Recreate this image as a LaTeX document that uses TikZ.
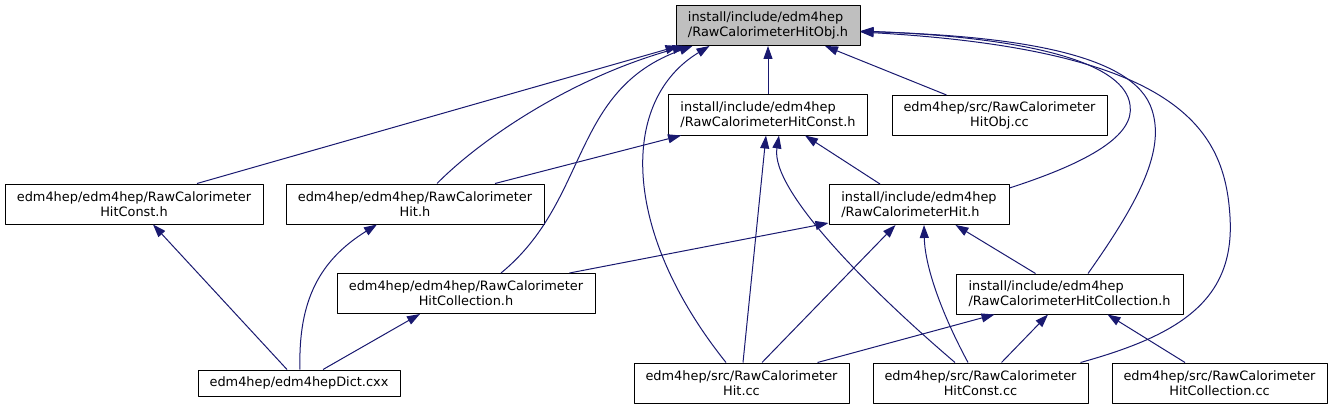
\documentclass[tikz,border=0pt]{standalone}
\usepackage{fontspec}
\setmainfont{DejaVu Sans}
\usetikzlibrary{arrows.meta}
\definecolor{edgeblue}{RGB}{25,25,112}
\definecolor{rootgray}{RGB}{191,191,191}

\begin{document}
\begin{tikzpicture}[x=1pt, y=-1pt, line join=round,
    file/.style={draw=black, fill=white, line width=1pt, inner sep=0pt,
      minimum height=40pt, font=\fontsize{12.9}{15}\selectfont, align=center},
    incl/.style={file, align=left},
    dep/.style={edgeblue, line width=1pt, {Triangle[length=13pt,width=9pt]}-}]
  \useasboundingbox (0,0) rectangle (1332,409);

  % Header files
  \node[incl, fill=rootgray, minimum width=184pt] (root) at (768,25.5) {install/include/edm4hep\\/RawCalorimeterHitObj.h};
  \node[incl, minimum width=199pt] (cnst) at (768,115) {install/include/edm4hep\\/RawCalorimeterHitConst.h};
  \node[incl, minimum width=180pt] (hith) at (919,204.5) {install/include/edm4hep\\/RawCalorimeterHit.h};
  \node[incl, minimum width=227pt] (icoll) at (1069.5,294) {install/include/edm4hep\\/RawCalorimeterHitCollection.h};
  \node[file, minimum width=258pt] (eeconst) at (134,204) {edm4hep/edm4hep/RawCalorimeter\\HitConst.h};
  \node[file, minimum width=258pt] (eehit) at (415,204) {edm4hep/edm4hep/RawCalorimeter\\Hit.h};
  \node[file, minimum width=258pt] (eecoll) at (466,293.5) {edm4hep/edm4hep/RawCalorimeter\\HitCollection.h};

  % Sources
  \node[file, minimum width=215pt] (objcc) at (999.5,115.5) {edm4hep/src/RawCalorimeter\\HitObj.cc};
  \node[file, minimum width=202pt, minimum height=26pt] (dict) at (299,383) {edm4hep/edm4hepDict.cxx};
  \node[file, minimum width=215pt] (hitcc) at (741.5,383) {edm4hep/src/RawCalorimeter\\Hit.cc};
  \node[file, minimum width=215pt] (constcc) at (980.5,383) {edm4hep/src/RawCalorimeter\\HitConst.cc};
  \node[file, minimum width=215pt] (collcc) at (1219.5,383) {edm4hep/src/RawCalorimeter\\HitCollection.cc};

  % Includes of the Obj header
  \draw[dep] (root.south) -- (cnst.north);
  \draw[dep] ([xshift=57pt]root.south) -- ([xshift=55pt]objcc.north west);
  \draw[dep] ([xshift=3pt]root.south west) -- ([xshift=63pt]eeconst.north);
  \draw[dep] ([xshift=10pt]root.south west) .. controls (570,78) and (480,140) .. ([xshift=22pt]eehit.north);
  \draw[dep] ([xshift=17pt]root.south west) .. controls (570,90) and (590,200) .. ([xshift=35pt]eecoll.north);
  \draw[dep] ([xshift=34pt]root.south west) .. controls (620,100) and (620,230) .. ([xshift=-15.5pt]hitcc.north);
  \draw[dep] ([yshift=-5.5pt]root.east) .. controls (1040,38) and (1125,65) .. (1130,105)
    .. controls (1135,135) and (1090,162) .. ([yshift=-4pt]hith.north east);
  \draw[dep] ([yshift=-6pt]root.east) .. controls (1020,36) and (1135,55) .. (1152,110)
    .. controls (1165,150) and (1140,200) .. ([xshift=18.5pt]icoll.north);
  \draw[dep] ([yshift=-6.5pt]root.east) .. controls (1180,50) and (1225,130) .. (1230,217)
    .. controls (1235,300) and (1180,335) .. ([xshift=-8pt]constcc.north east);

  % Includes of the Const header
  \draw[dep] ([xshift=13pt]cnst.south west) -- ([xshift=80pt]eehit.north);
  \draw[dep] ([xshift=-63pt]cnst.south east) -- ([xshift=-39pt]hith.north);
  \draw[dep] ([xshift=-2pt]cnst.south) -- ([xshift=1.5pt]hitcc.north);
  \draw[dep] ([xshift=11pt]cnst.south) .. controls (770,190) and (870,290) .. ([xshift=-25.5pt]constcc.north);

  % Includes of the Hit header
  \draw[dep] ([yshift=2pt]hith.south west) -- ([xshift=-26pt]eecoll.north east);
  \draw[dep] ([xshift=67pt]hith.south west) -- ([xshift=20.5pt]hitcc.north);
  \draw[dep] ([xshift=5pt]hith.south) .. controls (925,270) and (945,320) .. ([xshift=-12.5pt]constcc.north);
  \draw[dep] ([xshift=-54pt]hith.south east) -- ([xshift=-34pt]icoll.north);

  % Includes of the Collection header
  \draw[dep] ([xshift=39pt]icoll.south west) -- ([xshift=-32pt]hitcc.north east);
  \draw[dep] ([xshift=-21.5pt]icoll.south) -- ([xshift=21pt]constcc.north);
  \draw[dep] ([xshift=-76pt]icoll.south east) -- ([xshift=-34.5pt]collcc.north);

  % Dictionary
  \draw[dep] ([xshift=19pt]eeconst.south) -- ([xshift=-12pt]dict.north);
  \draw[dep] ([xshift=-38pt]eehit.south) .. controls (320,260) and (298,300) .. ([xshift=1pt]dict.north);
  \draw[dep] ([xshift=-46pt]eecoll.south) -- ([xshift=24pt]dict.north);
\end{tikzpicture}
\end{document}
